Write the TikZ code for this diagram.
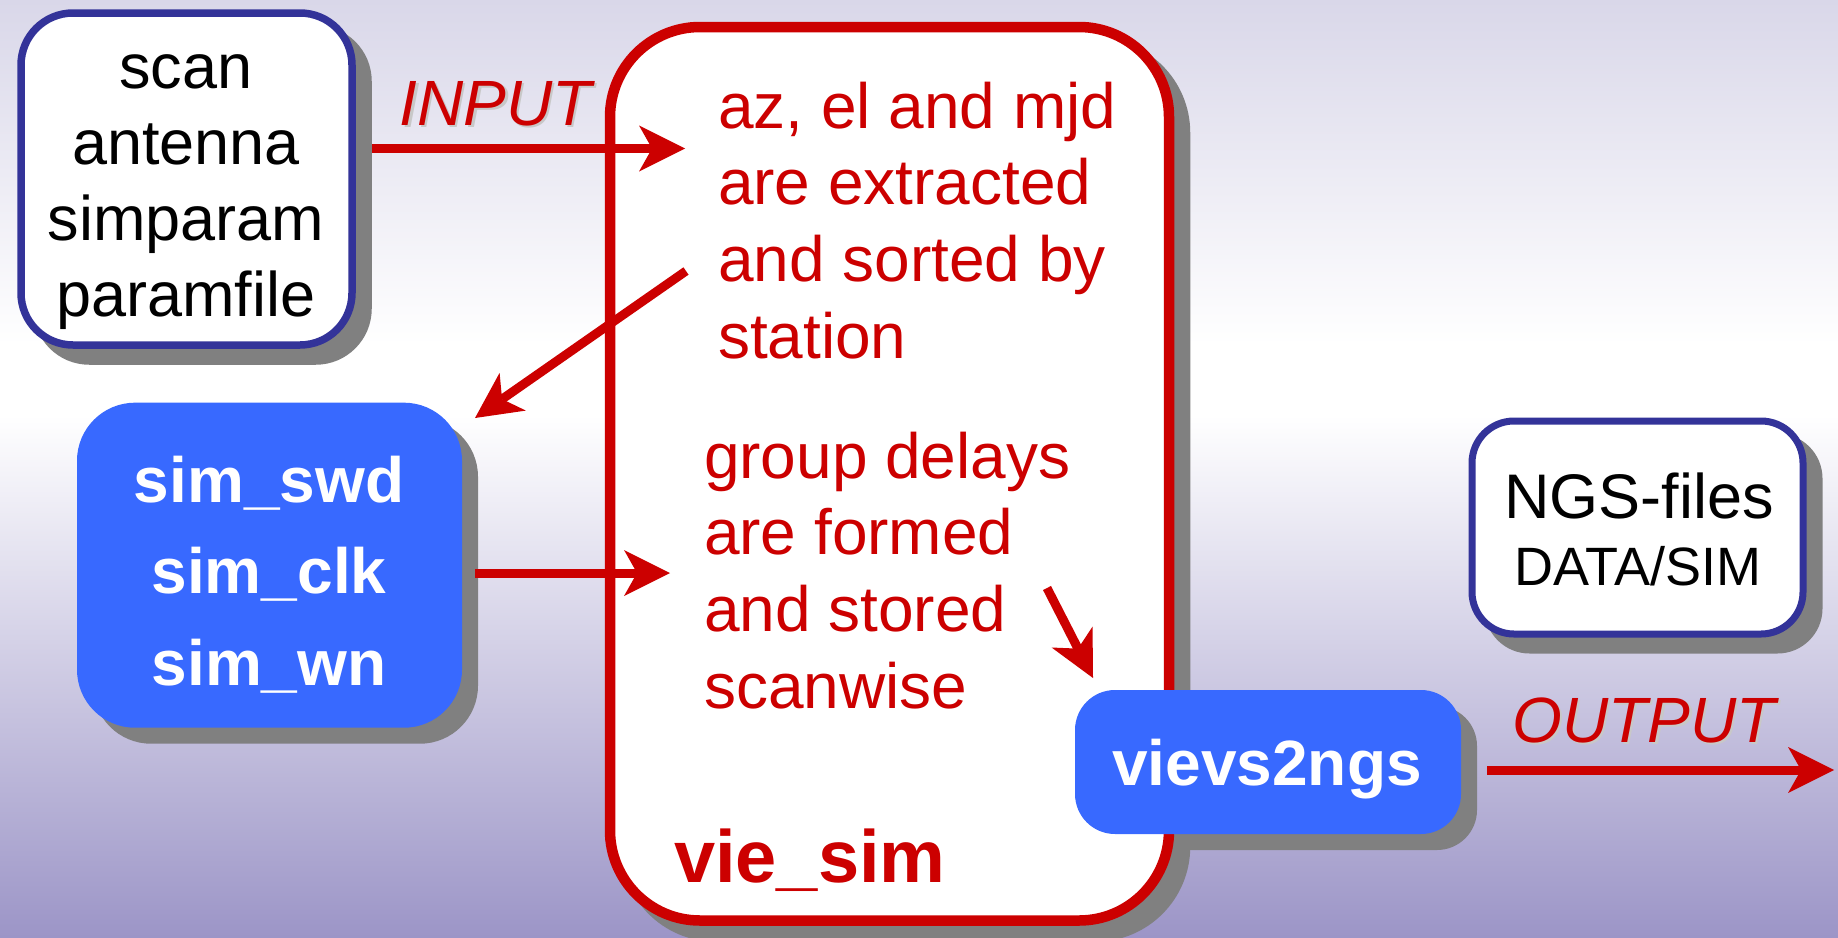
\documentclass[tikz,border=0pt]{standalone}
\usepackage{fontspec}
\setmainfont{Liberation Sans}
\usetikzlibrary{arrows.meta}

\definecolor{flowred}{HTML}{CC0000}
\definecolor{frameblue}{HTML}{333399}
\definecolor{fillblue}{HTML}{3869FF}
\definecolor{shadowgray}{HTML}{808080}
\definecolor{bgtop}{HTML}{D9D7E9}
\definecolor{bgbottom}{HTML}{9C95C7}
\definecolor{textshade}{HTML}{C8C8C8}

\tikzset{
  every node/.style={inner sep=0pt, outer sep=0pt},
  filebox/.style={rectangle, draw=frameblue, line width=7.5pt, fill=white},
  procbox/.style={rectangle, fill=fillblue},
  simframe/.style={rectangle, draw=flowred, line width=10.5pt, fill=white},
  dropshade/.style={fill=shadowgray},
  flow/.style={draw=flowred, line width=9pt,
    -{Stealth[length=46pt, width=46pt, inset=13pt, line width=0pt]}},
  intext/.style={font=\fontsize{63}{76}\selectfont, text=black, anchor=base},
  steptext/.style={font=\fontsize{64}{77}\selectfont, text=flowred, anchor=base west},
  proctext/.style={font=\bfseries\fontsize{64}{77}\selectfont, text=white, anchor=base},
  flowlabel/.style={font=\itshape\fontsize{64}{77}\selectfont, text=flowred, anchor=base},
  labelshade/.style={font=\itshape\fontsize{64}{77}\selectfont, text=textshade, anchor=base},
}

\begin{document}
\begin{tikzpicture}[x=1pt, y=-1pt]
\useasboundingbox (0,0) rectangle (1838,937);

% background gradient
\shade[top color=bgtop, bottom color=white] (0,0) rectangle (1838,345);
\fill[white] (0,344) rectangle (1838,416);
\shade[top color=white, bottom color=bgbottom] (0,415) rectangle (1838,937);

% drop shadows
\fill[dropshade, rounded corners=56pt] (33.25,25.25) rectangle (371.75,364.75);
\fill[dropshade, rounded corners=95pt] (620.75,37.75) rectangle (1190.25,941.75);
\fill[dropshade, rounded corners=58pt] (93,418.7) rectangle (478,743.7);
\fill[dropshade, rounded corners=40pt] (1091,706) rectangle (1477,850);
\fill[dropshade, rounded corners=45pt] (1484.5,433.5) rectangle (1822.5,653.5);

% boxes
\node[filebox, minimum width=331pt, minimum height=332pt, rounded corners=52pt] (inbox) at (186.5,179) {};
\node[simframe, minimum width=559pt, minimum height=893.5pt, rounded corners=90pt] (viesim) at (889.5,473.75) {};
\node[procbox, minimum width=385pt, minimum height=325pt, rounded corners=58pt] (simbox) at (269.5,565.2) {};
\node[procbox, minimum width=386pt, minimum height=144pt, rounded corners=40pt] (ngsconv) at (1268,762) {};
\node[filebox, line width=7pt, minimum width=331pt, minimum height=213pt, rounded corners=42pt] (ngsfiles) at (1637.5,527.5) {};

% input files
\node[intext] (in1) at (186,88) {scan};
\node[intext] (in2) at (186,164) {antenna};
\node[intext] (in3) at (186,240) {simparam};
\node[intext] (in4) at (186,316) {paramfile};

% processing steps inside vie_sim
\node[steptext] (s1) at (718,128) {az, el and mjd};
\node[steptext] (s2) at (718,204) {are extracted};
\node[steptext] (s3) at (718,281) {and sorted by};
\node[steptext] (s4) at (718,358) {station};
\node[steptext] (g1) at (704,478) {group delays};
\node[steptext] (g2) at (704,554) {are formed};
\node[steptext] (g3) at (704,631) {and stored};
\node[steptext] (g4) at (704,708) {scanwise};
\node[steptext, font=\bfseries\fontsize{74}{89}\selectfont] (vlabel) at (674,882) {vie\_sim};

% sub-programs
\node[proctext] (p1) at (269,502.5) {sim\_swd};
\node[proctext] (p2) at (269,593.5) {sim\_clk};
\node[proctext] (p3) at (269,685) {sim\_wn};
\node[proctext] (p4) at (1267,785) {vievs2ngs};

% output files
\node[intext] (o1) at (1639,518.5) {NGS-files};
\node[intext, font=\fontsize{54}{64}\selectfont] (o2) at (1638,585) {DATA/SIM};

% flow labels
\node[labelshade] (inshade) at (498,127.5) {INPUT};
\node[flowlabel] (inlabel) at (495.5,125) {INPUT};
\node[labelshade] (outshade) at (1646.5,744.5) {OUTPUT};
\node[flowlabel] (outlabel) at (1644,742) {OUTPUT};

% connectors
\coordinate (a1s) at (372,148.5);
\coordinate (a1e) at (685,148.5);
\coordinate (a2s) at (686,271);
\coordinate (a2e) at (475,418);
\coordinate (a3s) at (475,573);
\coordinate (a3e) at (670,573);
\coordinate (a4s) at (1047,588);
\coordinate (a4e) at (1093,678);
\coordinate (a5s) at (1487,770);
\coordinate (a5e) at (1834,770);

\draw[flow] (a1s) -- (a1e);
\draw[flow] (a2s) -- (a2e);
\draw[flow] (a3s) -- (a3e);
\draw[flow] (a4s) -- (a4e);
\draw[flow] (a5s) -- (a5e);
\end{tikzpicture}
\end{document}
